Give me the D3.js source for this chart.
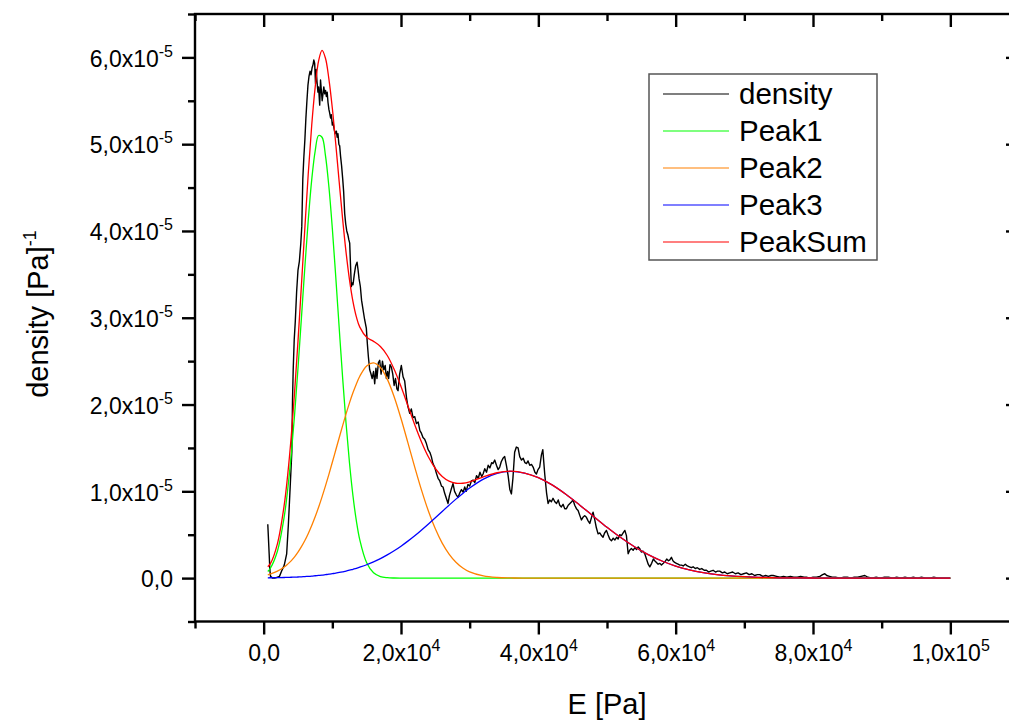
<!DOCTYPE html>
<html>
<head>
<meta charset="utf-8">
<script src="https://cdn.jsdelivr.net/npm/d3@7"></script>
<style>
  body { margin: 0; background: #fff; }
  svg { display: block; font-family: "Liberation Sans", Arial, sans-serif; }
</style>
</head>
<body>
<div id="chart"></div>
<script>
// density values are in units of 1e-5 Pa^-1, E in Pa
const seriesNames = ["density", "Peak1", "Peak2", "Peak3", "PeakSum"];
const seriesColors = ["#000000", "#00ff00", "#ff8000", "#0000ff", "#ff0000"];

const xMajor = [0, 20000, 40000, 60000, 80000, 100000];
const yMajor = [0, 1, 2, 3, 4, 5, 6];

// grid of the fitted curves
const fitE = [600, 1000, 2000, 3000, 3500, 4000, 4500, 5000, 5500, 6000, 6500, 7000, 7500, 8000, 8500,
    9000, 9500, 10000, 10500, 11000, 11500, 12000, 12500, 13000, 13500, 14000,
    15000, 16000, 17000, 18000, 19000, 20000, 21000, 22000, 23000, 24000, 25000, 26000, 27000, 28000, 29000, 30000,
    32000, 34000, 36000, 38000, 40000, 42000, 44000, 46000, 48000, 50000, 52000, 54000, 56000, 58000, 60000,
    62000, 64000, 66000, 68000, 70000, 72000, 74000, 76000, 78000, 80000, 82000, 84000, 86000, 88000, 90000,
    92000, 94000, 96000, 98000, 100000];

const peak1 = [0.076, 0.117, 0.310, 0.711, 1.021, 1.411, 1.881, 2.419, 2.999, 3.585, 4.132, 4.592, 4.921, 5.10, 5.08,
    4.868, 4.509, 4.028, 3.469, 2.882, 2.307, 1.781, 1.327, 0.952, 0.659, 0.440,
    0.176, 0.061, 0.018, 0.005, 0.001, 0, 0, 0, 0, 0, 0, 0, 0, 0, 0, 0,
    0, 0, 0, 0, 0, 0, 0, 0, 0, 0, 0, 0, 0, 0, 0,
    0, 0, 0, 0, 0, 0, 0, 0, 0, 0, 0, 0, 0, 0, 0,
    0, 0, 0, 0, 0];

const peak2 = [0.038, 0.048, 0.080, 0.128, 0.161, 0.199, 0.245, 0.299, 0.362, 0.433, 0.515, 0.606, 0.706, 0.817, 0.936,
    1.063, 1.196, 1.335, 1.476, 1.617, 1.757, 1.892, 2.019, 2.135, 2.238, 2.326,
    2.445, 2.480, 2.427, 2.293, 2.090, 1.839, 1.561, 1.279, 1.011, 0.771, 0.568, 0.403, 0.277, 0.183, 0.117, 0.072,
    0.025, 0.007, 0.002, 0, 0, 0, 0, 0, 0, 0, 0, 0, 0, 0, 0,
    0, 0, 0, 0, 0, 0, 0, 0, 0, 0, 0, 0, 0, 0, 0,
    0, 0, 0, 0, 0];

const peak3 = [0.003, 0.004, 0.005, 0.007, 0.008, 0.010, 0.011, 0.013, 0.015, 0.018, 0.020, 0.023, 0.027, 0.031, 0.035,
    0.040, 0.045, 0.051, 0.057, 0.065, 0.073, 0.081, 0.091, 0.102, 0.113, 0.126,
    0.154, 0.187, 0.224, 0.267, 0.315, 0.368, 0.426, 0.488, 0.555, 0.624, 0.695, 0.768, 0.840, 0.910, 0.976, 1.038,
    1.141, 1.207, 1.230, 1.211, 1.158, 1.074, 0.966, 0.843, 0.714, 0.586, 0.467, 0.361, 0.271, 0.197, 0.139,
    0.095, 0.063, 0.041, 0.026, 0.016, 0.009, 0.005, 0.003, 0.002, 0.001, 0, 0, 0, 0, 0,
    0, 0, 0, 0, 0];

const peakSum = [0.13, 0.169, 0.395, 0.846, 1.190, 1.620, 2.137, 2.731, 3.376, 4.036, 4.667, 5.221, 5.654, 5.96, 6.08,
    5.99, 5.750, 5.414, 5.002, 4.564, 4.137, 3.754, 3.437, 3.189, 3.010, 2.892,
    2.775, 2.728, 2.669, 2.565, 2.406, 2.207, 1.987, 1.767, 1.566, 1.395, 1.263, 1.171, 1.117, 1.093, 1.093, 1.110,
    1.166, 1.214, 1.232, 1.211, 1.158, 1.074, 0.966, 0.843, 0.714, 0.586, 0.467, 0.361, 0.271, 0.197, 0.139,
    0.095, 0.063, 0.041, 0.026, 0.016, 0.009, 0.005, 0.003, 0.002, 0.001, 0, 0, 0, 0, 0,
    0, 0, 0, 0, 0];

// measured density: [E, value]
const densityPoints = [
    [600, 0.62], [700, 0.45], [800, 0.28], [900, 0.10], [1000, 0.02], [1300, 0.0], [1600, 0.0], [2000, 0.01],
    [2300, 0.02], [2600, 0.08], [3000, 0.15], [3350, 0.28], [3600, 0.62], [3800, 0.95], [3950, 1.20], [4100, 1.45],
    [4200, 2.05], [4300, 2.40], [4450, 2.75], [4600, 2.95], [4800, 3.30], [5000, 3.55], [5200, 3.65], [5400, 3.85],
    [5550, 4.05], [5700, 4.60], [5850, 4.85], [6000, 5.05], [6150, 5.30], [6300, 5.50], [6450, 5.68], [6600, 5.78],
    [6750, 5.84], [6900, 5.80], [7050, 5.88], [7200, 5.92], [7300, 5.97], [7430, 5.93], [7550, 5.70], [7650, 5.86],
    [7770, 5.72], [7900, 5.60], [8000, 5.66], [8160, 5.45], [8280, 5.74], [8400, 5.62], [8520, 5.50], [8640, 5.58],
    [8760, 5.66], [8890, 5.58], [9010, 5.62], [9130, 5.55], [9250, 5.60], [9370, 5.48], [9500, 5.40], [9610, 5.36],
    [9750, 5.30], [9850, 5.34], [10000, 5.22], [10100, 5.25], [10250, 5.18], [10400, 5.12], [10590, 5.15], [10700, 5.08],
    [10820, 5.12], [10950, 5.00], [11070, 4.98], [11200, 4.86], [11350, 4.75], [11510, 4.60], [11650, 4.45], [11800, 4.20],
    [11950, 4.08], [12100, 4.00], [12280, 3.95], [12400, 3.90], [12530, 3.86], [12650, 3.60], [12770, 3.36], [12900, 3.40],
    [13010, 3.38], [13200, 3.50], [13400, 3.60], [13600, 3.64], [13750, 3.55], [13890, 3.45], [14080, 3.36], [14260, 3.20],
    [14460, 3.10], [14700, 2.98], [14950, 2.88], [15100, 2.70], [15250, 2.55], [15440, 2.40], [15600, 2.36], [15800, 2.30],
    [16000, 2.38], [16170, 2.24], [16350, 2.42], [16500, 2.30], [16700, 2.48], [16900, 2.51], [17100, 2.35], [17300, 2.50],
    [17500, 2.40], [17700, 2.45], [17870, 2.30], [18050, 2.38], [18200, 2.30], [18400, 2.46], [18600, 2.43], [18800, 2.35],
    [19000, 2.22], [19200, 2.30], [19400, 2.18], [19570, 2.16], [19800, 2.35], [20050, 2.45], [20300, 2.32], [20540, 2.27],
    [20800, 2.08], [21000, 1.98], [21270, 1.90], [21500, 1.95], [21750, 1.85], [22000, 1.86], [22250, 1.78], [22500, 1.80],
    [22750, 1.70], [22970, 1.67], [23200, 1.62], [23450, 1.60], [23700, 1.55], [23950, 1.48], [24200, 1.45], [24420, 1.40],
    [24650, 1.32], [24900, 1.28], [25150, 1.21], [25400, 1.15], [25650, 1.12], [25900, 1.06], [26120, 1.05], [26350, 0.98],
    [26600, 0.92], [26850, 0.86], [27050, 0.95], [27300, 1.02], [27580, 1.09], [27800, 1.00], [28050, 0.96], [28310, 0.93],
    [28550, 0.98], [28800, 1.02], [29050, 0.99], [29280, 1.05], [29500, 1.00], [29750, 1.08], [30000, 1.06], [30250, 1.12],
    [30500, 1.13], [30750, 1.10], [31000, 1.18], [31250, 1.15], [31500, 1.22], [31750, 1.17], [31950, 1.20], [32200, 1.26],
    [32450, 1.22], [32700, 1.30], [32950, 1.27], [33200, 1.33], [33400, 1.32], [33650, 1.36], [33900, 1.30], [34150, 1.25],
    [34380, 1.28], [34600, 1.34], [34850, 1.38], [35100, 1.40], [35350, 1.30], [35600, 1.18], [35850, 1.02], [36080, 0.97],
    [36300, 1.15], [36550, 1.45], [36800, 1.51], [37050, 1.50], [37290, 1.40], [37550, 1.36], [37800, 1.38], [38050, 1.33],
    [38270, 1.32], [38500, 1.35], [38750, 1.30], [39000, 1.31], [39240, 1.28], [39500, 1.22], [39720, 1.20], [39950, 1.25],
    [40200, 1.28], [40450, 1.42], [40650, 1.48], [40930, 1.20], [41200, 0.98], [41420, 0.86], [41650, 0.90], [41900, 0.88],
    [42140, 0.92], [42400, 0.88], [42650, 0.86], [42900, 0.90], [43120, 0.84], [43350, 0.82], [43600, 0.85], [43850, 0.80],
    [44090, 0.80], [44350, 0.84], [44600, 0.86], [44850, 0.88], [45060, 0.90], [45300, 0.84], [45550, 0.80], [45790, 0.78],
    [46050, 0.72], [46280, 0.67], [46500, 0.70], [46750, 0.72], [47000, 0.70], [47250, 0.66], [47490, 0.63], [47750, 0.70],
    [47970, 0.76], [48200, 0.68], [48450, 0.58], [48700, 0.51], [48950, 0.52], [49200, 0.49], [49420, 0.47], [49650, 0.52],
    [49920, 0.55], [50150, 0.50], [50400, 0.45], [50650, 0.43], [50900, 0.46], [51150, 0.44], [51400, 0.47], [51620, 0.45],
    [51850, 0.50], [52100, 0.49], [52350, 0.52], [52600, 0.55], [52830, 0.49], [53080, 0.28], [53300, 0.32], [53550, 0.34],
    [53810, 0.32], [54050, 0.35], [54300, 0.33], [54550, 0.36], [54770, 0.34], [55000, 0.30], [55250, 0.31], [55500, 0.28],
    [55750, 0.22], [56000, 0.16], [56230, 0.13], [56500, 0.17], [56750, 0.22], [56950, 0.20], [57200, 0.18], [57450, 0.16],
    [57700, 0.17], [57930, 0.15], [58200, 0.17], [58450, 0.19], [58700, 0.22], [58950, 0.20], [59150, 0.21], [59380, 0.24],
    [59600, 0.20], [59850, 0.18], [60100, 0.17], [60350, 0.16], [60600, 0.15], [60850, 0.15], [61100, 0.14], [61400, 0.16],
    [61700, 0.14], [62000, 0.13], [62300, 0.12], [62540, 0.13], [62850, 0.11], [63150, 0.12], [63500, 0.10], [63800, 0.11],
    [64150, 0.09], [64490, 0.09], [64800, 0.07], [65100, 0.08], [65450, 0.09], [65800, 0.07], [66100, 0.08], [66420, 0.08],
    [66800, 0.06], [67150, 0.07], [67500, 0.05], [67880, 0.06], [68300, 0.07], [68700, 0.05], [69100, 0.06], [69500, 0.04],
    [69900, 0.05], [70310, 0.06], [70700, 0.04], [71100, 0.05], [71500, 0.03], [71900, 0.04], [72250, 0.04], [72700, 0.02],
    [73100, 0.03], [73500, 0.02], [73900, 0.03], [74200, 0.03], [74700, 0.02], [75200, 0.01], [75700, 0.02], [76200, 0.01],
    [76700, 0.02], [77200, 0.01], [77700, 0.01], [78200, 0.02], [78700, 0.01], [79050, 0.01], [79500, 0.00], [80000, 0.01],
    [80500, 0.01], [81000, 0.02], [81400, 0.04], [81720, 0.05], [82000, 0.03], [82400, 0.02], [82800, 0.01], [83300, 0.01],
    [83900, 0.00], [84500, 0.01], [85000, 0.01], [85500, 0.00], [86000, 0.01], [86500, 0.01], [87000, 0.02], [87550, 0.03],
    [88000, 0.01], [88600, 0.00], [89200, 0.01], [89800, 0.00], [90400, 0.01], [91000, 0.01], [91600, 0.00], [92200, 0.01],
    [92800, 0.00], [93400, 0.01], [94000, 0.00], [94600, 0.01], [95200, 0.00], [95800, 0.01], [96400, 0.00], [97000, 0.00],
    [97600, 0.01], [98200, 0.00], [98800, 0.00], [99400, 0.00], [100000, 0.00]
];

function drawChart() {
    const width = 1009, height = 720;
    const left = 195, right = 1019, top = 14, bottom = 621.5;

    const svg = d3.select("#chart")
        .append("svg")
        .attr("width", width)
        .attr("height", height);

    const x = d3.scaleLinear().domain([-10000, 110000]).range([left, right]);
    const y = d3.scaleLinear().domain([-0.5, 6.5]).range([bottom, top]);

    const xMinor = d3.range(-10000, 110001, 10000).filter(v => !xMajor.includes(v));
    const yMinor = d3.range(-0.5, 6.51, 0.5).filter(v => !yMajor.includes(v));

    // curves
    const fitLine = d3.line()
        .x((d, i) => x(fitE[i]))
        .y(d => y(d))
        .curve(d3.curveCatmullRom.alpha(0.5));

    const plot = svg.append("g");
    plot.append("path")
        .datum(densityPoints)
        .attr("fill", "none")
        .attr("stroke", seriesColors[0])
        .attr("stroke-width", 1.4)
        .attr("stroke-linejoin", "round")
        .attr("d", d3.line().x(d => x(d[0])).y(d => y(d[1])));

    [peak1, peak2, peak3, peakSum].forEach((vals, k) => {
        plot.append("path")
            .datum(vals)
            .attr("fill", "none")
            .attr("stroke", seriesColors[k + 1])
            .attr("stroke-width", 1.3)
            .attr("d", fitLine);
    });

    // axes: major + minor ticks on all four sides
    function styleAxis(g) {
        g.select(".domain").remove();
        g.selectAll(".tick line").attr("stroke", "#000").attr("stroke-width", 2.4);
    }
    function sideAxis(axisFn, scale, transform, majors, minors) {
        const gMin = svg.append("g").attr("transform", transform)
            .call(axisFn(scale).tickValues(minors).tickSize(7).tickFormat(""));
        styleAxis(gMin);
        const gMaj = svg.append("g").attr("transform", transform)
            .call(axisFn(scale).tickValues(majors).tickSize(13).tickPadding(10).tickFormat(""));
        styleAxis(gMaj);
        return gMaj;
    }

    const gLeft = sideAxis(d3.axisLeft, y, `translate(${left},0)`, yMajor, yMinor);
    const gBottom = sideAxis(d3.axisBottom, x, `translate(0,${bottom})`, xMajor, xMinor);
    sideAxis(d3.axisBottom, x, `translate(0,${top})`, xMajor, xMinor);
    sideAxis(d3.axisLeft, y, `translate(${right},0)`, yMajor, yMinor);

    svg.append("rect")
        .attr("x", left).attr("y", top)
        .attr("width", right - left).attr("height", bottom - top)
        .attr("fill", "none").attr("stroke", "#000").attr("stroke-width", 2.4);

    // tick labels with superscript exponents
    function setLabel(text, mant, exp) {
        text.text(null);
        if (exp === null) { text.append("tspan").text(mant); return; }
        text.append("tspan").text(mant + "x10");
        text.append("tspan").attr("dy", -10).attr("font-size", 16).text(exp);
    }

    gLeft.selectAll(".tick text")
        .attr("font-size", 23).attr("font-family", "Liberation Sans, Arial, sans-serif")
        .attr("fill", "#000").attr("dy", "0.38em").attr("x", -22)
        .each(function(d) {
            setLabel(d3.select(this), d3.format(".1f")(d).replace(".", ","), d === 0 ? null : "-5");
        });

    gBottom.selectAll(".tick text")
        .attr("font-size", 23).attr("font-family", "Liberation Sans, Arial, sans-serif")
        .attr("fill", "#000").attr("dy", "0.71em")
        .each(function(d) {
            if (d === 0) { setLabel(d3.select(this), "0,0", null); return; }
            const e = Math.floor(Math.log10(d));
            setLabel(d3.select(this), d3.format(".1f")(d / Math.pow(10, e)).replace(".", ","), String(e));
        });

    // axis titles
    svg.append("text")
        .attr("x", 607).attr("y", 714)
        .attr("text-anchor", "middle")
        .attr("font-size", 29)
        .text("E [Pa]");

    const yTitle = svg.append("text")
        .attr("transform", "translate(48,314) rotate(-90)")
        .attr("text-anchor", "middle")
        .attr("font-size", 29);
    yTitle.append("tspan").text("density [Pa]");
    yTitle.append("tspan").attr("dy", -12).attr("font-size", 18).text("-1");

    // legend
    const legend = svg.append("g");
    legend.append("rect")
        .attr("x", 649).attr("y", 74).attr("width", 228).attr("height", 186)
        .attr("fill", "#fff").attr("stroke", "#555").attr("stroke-width", 1.5);
    seriesNames.forEach((name, i) => {
        const cy = 94 + i * 37;
        legend.append("line")
            .attr("x1", 663).attr("x2", 729).attr("y1", cy).attr("y2", cy)
            .attr("stroke", seriesColors[i]).attr("stroke-width", 1.2);
        legend.append("text")
            .attr("x", 739).attr("y", cy + 10)
            .attr("font-size", 29.5)
            .text(name);
    });
}

drawChart();
</script>
</body>
</html>
